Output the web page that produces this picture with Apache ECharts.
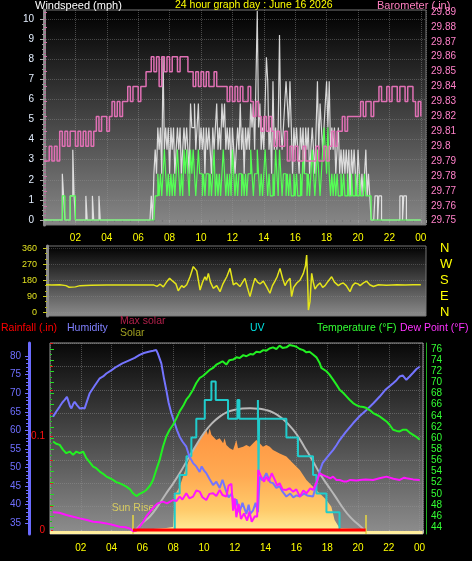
<!DOCTYPE html>
<html><head><meta charset="utf-8">
<script src="https://cdn.jsdelivr.net/npm/echarts@6/dist/echarts.min.js"></script>
<style>html,body{margin:0;padding:0;background:#000;}#c{width:472px;height:561px;}</style>
</head><body><div id="c"></div>
<script>
// ---- Wind (mph), 5-minute samples from 00:00 to 24:00 ----
const windGust = [
0,0,0,0,0,0,0,0,0,0,0,0,
0,0,2.3,1.2,0,0,0,0,1.2,1.2,3.5,1.2,
0,0,0,0,0,0,0,0,1.2,0,0,0,
0,1.2,0,0,0,0,1.2,0,0,0,0,0,
0,0,0,0,0,0,0,0,0,0,0,0,
0,0,0,0,0,0,0,0,0,0,0,0,
0,0,0,0,0,0,0,0,0,0,1.2,0,
2.3,3.5,2.3,4.6,3.5,4.6,2.3,8.1,3.5,4.6,3.5,4.6,
2.3,4.6,3.5,4.6,2.3,3.5,4.6,3.5,4.6,2.3,3.5,4.6,
3.5,4.6,3.5,2.3,5.8,4.6,4.6,5.8,3.5,4.6,5.8,3.5,
4.6,3.5,4.6,2.3,4.6,3.5,4.6,3.5,2.3,4.6,3.5,4.6,
5.8,3.5,4.6,3.5,5.8,4.6,5.8,3.5,4.6,3.5,4.6,2.3,
4.6,3.5,2.3,3.5,4.6,3.5,5.8,3.5,4.6,2.3,4.6,3.5,
4.6,3.5,5.8,4.6,5.8,3.5,6.9,10.4,4.6,5.8,3.5,4.6,
3.5,5.8,8.1,6.9,3.5,4.6,2.3,6.9,3.5,4.6,3.5,4.6,
9.2,4.6,3.5,4.6,5.8,6.9,5.8,4.6,6.9,4.6,2.3,4.6,
3.5,4.6,3.5,2.3,4.6,3.5,4.6,2.3,4.6,3.5,4.6,2.3,
3.5,4.6,3.5,2.3,4.6,6.9,3.5,5.8,4.6,3.5,4.6,5.8,
6.9,4.6,6.9,3.5,4.6,3.5,4.6,2.3,3.5,4.6,2.3,3.5,
2.3,3.5,2.3,3.5,2.3,3.5,1.2,3.5,2.3,3.5,2.3,1.2,
3.5,2.3,1.2,2.3,1.2,2.3,3.5,1.2,2.3,1.2,0,0,
0,1.2,1.2,0,1.2,1.2,0,0,0,0,0,0,
0,0,0,0,0,0,0,0,1.2,1.2,0,1.2,
1.2,0,0,0,0,0,0,0,0,0,0,0,
0];
const windSpeed = [
0,0,0,0,0,0,0,0,0,0,0,0,
0,0,1.2,1.2,0,0,0,0,1.2,1.2,1.2,1.2,
0,0,0,0,0,0,0,0,0,0,0,0,
0,0,0,0,0,0,0,0,0,0,0,0,
0,0,0,0,0,0,0,0,0,0,0,0,
0,0,0,0,0,0,0,0,0,0,0,0,
0,0,0,0,0,0,0,0,0,0,0,0,
0,1.2,1.2,2.3,1.2,2.3,1.2,2.3,3.5,2.3,1.2,2.3,
1.2,2.3,1.2,2.3,1.2,2.3,3.5,2.3,1.2,2.3,1.2,3.5,
2.3,3.5,2.3,1.2,3.5,2.3,3.5,2.3,1.2,2.3,3.5,2.3,
2.3,1.2,2.3,1.2,2.3,2.3,1.2,2.3,1.2,2.3,3.5,1.2,
2.3,1.2,2.3,1.2,2.3,3.5,2.3,1.2,2.3,1.2,2.3,1.2,
3.5,2.3,1.2,2.3,1.2,2.3,2.3,1.2,2.3,1.2,2.3,1.2,
2.3,2.3,3.5,2.3,1.2,2.3,2.3,3.5,2.3,1.2,2.3,1.2,
2.3,3.5,2.3,1.2,2.3,1.2,1.2,2.3,1.2,3.5,2.3,1.2,
3.5,2.3,1.2,2.3,2.3,1.2,2.3,1.2,2.3,1.2,1.2,2.3,
1.2,2.3,1.2,1.2,2.3,1.2,3.5,2.3,2.3,1.2,2.3,1.2,
2.3,3.5,2.3,1.2,2.3,3.5,2.3,1.2,2.3,3.5,4.6,3.5,
2.3,4.6,2.3,1.2,2.3,1.2,2.3,1.2,2.3,1.2,1.2,2.3,
1.2,2.3,1.2,1.2,2.3,1.2,1.2,2.3,1.2,1.2,2.3,1.2,
1.2,2.3,1.2,1.2,1.2,2.3,1.2,1.2,1.2,1.2,0,0,
0,0,0,0,0,0,0,0,0,0,0,0,
0,0,0,0,0,0,0,0,0,0,0,0,
0,0,0,0,0,0,0,0,0,0,0,0,
0];
// ---- Barometer (in), 10-minute samples ----
const barometer = [
29.79,29.79,29.80,29.79,29.80,29.79,
29.81,29.80,29.81,29.80,29.81,29.81,
29.80,29.81,29.80,29.81,29.80,29.81,
29.80,29.81,29.82,29.81,29.82,29.82,
29.81,29.82,29.83,29.82,29.83,29.82,
29.83,29.83,29.84,29.83,29.84,29.84,
29.83,29.84,29.84,29.85,29.85,29.86,
29.85,29.86,29.84,29.86,29.85,29.86,
29.85,29.86,29.86,29.85,29.86,29.86,
29.86,29.85,29.85,29.84,29.85,29.84,
29.85,29.84,29.85,29.84,29.84,29.85,
29.84,29.84,29.84,29.84,29.83,29.84,
29.83,29.84,29.83,29.84,29.83,29.83,
29.84,29.83,29.82,29.83,29.82,29.81,
29.82,29.81,29.82,29.81,29.80,29.81,
29.80,29.80,29.81,29.79,29.80,29.79,
29.80,29.79,29.79,29.80,29.79,29.79,
29.79,29.79,29.80,29.79,29.79,29.80,
29.79,29.80,29.81,29.80,29.81,29.81,
29.82,29.81,29.82,29.82,29.82,29.82,
29.82,29.83,29.82,29.83,29.83,29.82,
29.83,29.83,29.84,29.83,29.83,29.84,
29.83,29.84,29.84,29.83,29.84,29.84,
29.83,29.84,29.84,29.83,29.82,29.83,
29.82];
// ---- Wind direction (degrees) ----
const dirHours = [0,0.5,1.0,1.4,1.6,2.0,2.3,3.0,4.0,5.0,6.0,7.0,7.2,7.4,7.6,7.8,8.0,8.2,8.4,8.55,8.77,8.9,9.09,9.3,9.51,9.73,9.94,10.1,10.25,10.35,10.47,10.6,10.78,11.0,11.21,11.4,11.64,11.85,12.06,12.25,12.48,12.65,12.8,12.95,13.12,13.3,13.44,13.6,13.76,13.97,14.2,14.39,14.55,14.71,14.85,15.03,15.2,15.35,15.5,15.67,15.77,15.9,16.1,16.3,16.52,16.65,16.73,16.8,16.84,16.94,17.05,17.15,17.26,17.4,17.58,17.75,17.9,18.1,18.32,18.5,18.75,18.9,19.06,19.25,19.49,19.65,19.81,20.0,20.13,20.35,20.55,20.75,20.98,21.3,21.8,22.5,23.0,23.5,24.0];
const dirDegrees = [155,154,155,150,141,143,150,152,153,153,153,153,146,158,143,170,191,175,160,121,150,140,155,200,257,233,125,170,200,180,219,170,135,150,116,160,200,247,155,165,145,170,191,140,88,150,191,170,160,175,140,107,150,175,200,247,190,150,175,191,88,140,165,180,219,260,322,150,13,60,219,170,130,150,165,140,150,175,200,170,150,160,165,150,116,150,165,160,150,165,175,155,145,155,152,155,153,155,155];
// ---- Humidity (%) ----
const humHours = [0.2,0.4,0.63,0.8,0.95,1.1,1.17,1.3,1.39,1.5,1.6,1.75,1.93,2.1,2.25,2.4,2.58,2.9,3.23,3.45,3.66,4.0,4.31,4.7,5.18,5.5,5.82,6.1,6.47,6.7,6.9,7.0,7.23,7.4,7.55,7.7,7.88,8.1,8.25,8.42,8.6,8.85,9.05,9.29,9.5,9.72,9.85,10.0,10.15,10.35,10.59,10.8,11.02,11.2,11.45,11.6,11.8,12.0,12.1,12.3,12.5,12.75,12.9,13.0,13.19,13.35,13.5,13.62,13.8,14.05,14.3,14.48,14.7,14.9,15.1,15.35,15.6,15.8,16.0,16.22,16.5,16.7,17.08,17.3,17.51,17.7,17.95,18.2,18.38,18.6,18.81,19.2,19.68,20.1,20.55,21.0,21.41,21.8,22.28,22.5,22.71,22.9,23.14,23.35,23.58,23.8,24.01];
const humValues = [63.7,65.0,66.4,67.5,68.2,69.0,68.6,66.5,65.9,67.0,67.7,66.8,65.9,66.0,65.9,67.8,70.0,72.0,74.0,74.5,75.3,76.2,77.1,78.0,78.9,79.5,80.3,80.8,81.2,81.4,81.6,80.7,78.0,74.0,70.9,67.5,64.6,61.9,60.0,58.3,57.0,55.6,53.0,51.2,50.3,48.8,50.3,49.2,48.5,47.0,45.3,46.2,44.5,46.7,43.5,42.0,43.0,39.0,41.5,38.0,40.5,37.5,40.0,37.5,38.5,40.5,38.0,47.6,46.5,48.5,46.0,45.8,44.5,45.0,43.5,42.2,43.0,42.0,42.5,42.2,43.0,42.5,42.2,45.5,49.0,51.2,52.5,53.8,54.7,56.0,57.4,59.5,61.9,63.8,65.5,67.3,69.1,71.0,72.7,73.5,74.5,74.8,73.6,74.5,75.5,76.5,77.1];
// ---- Temperature (°F) ----
const tempHours = [0.2,0.4,0.63,0.85,1.06,1.28,1.5,1.71,1.93,2.15,2.36,2.6,2.8,3.0,3.23,3.45,3.66,3.9,4.09,4.3,4.53,4.75,4.96,5.2,5.39,5.61,5.82,6.05,6.26,6.5,6.69,6.9,7.12,7.34,7.55,7.77,7.99,8.2,8.42,8.65,8.85,9.05,9.29,9.5,9.72,9.95,10.15,10.4,10.59,10.8,11.02,11.2,11.45,11.65,11.89,12.1,12.32,12.55,12.75,13.0,13.19,13.4,13.62,13.85,14.05,14.25,14.48,14.7,14.91,15.1,15.35,15.55,15.78,16.0,16.22,16.45,16.65,16.85,17.08,17.3,17.51,17.62,17.73,17.95,18.15,18.38,18.6,18.81,19.05,19.25,19.45,19.68,19.9,20.11,20.35,20.55,20.78,20.98,21.2,21.41,21.6,21.85,22.05,22.28,22.5,22.71,22.9,23.14,23.35,23.58,23.8,24.01];
const tempValues = [59.4,59.0,58.8,57.9,57.3,57.6,57.0,57.6,57.3,57.6,56.4,55.6,54.9,54.6,54.0,53.6,53.1,52.8,52.5,52.1,51.9,51.6,51.3,50.8,50.1,49.6,50.0,50.3,50.7,51.5,52.5,54.3,56.1,58.5,60.3,61.5,62.4,63.5,64.8,65.8,66.9,67.6,68.7,69.9,70.8,71.2,71.7,72.3,72.6,73.2,73.5,73.8,73.2,74.0,74.1,74.5,74.4,74.9,74.7,75.1,75.0,75.5,75.4,75.8,75.7,76.1,76.3,76.0,76.6,76.2,76.3,76.7,76.6,76.4,76.0,75.8,75.4,75.5,75.0,74.5,73.5,72.6,72.3,72.0,71.4,70.5,69.6,68.7,68.1,67.5,66.9,66.3,65.9,65.7,65.6,65.4,65.0,64.5,64.2,63.9,63.5,63.0,62.4,61.5,61.3,61.2,61.5,61.5,61.0,60.6,60.2,59.7];
// ---- Dew point (°F) ----
const dewHours = [0.2,0.6,1.06,1.5,1.93,2.4,2.8,3.2,3.66,4.1,4.53,4.9,5.18,5.4,5.5,5.6,5.82,6.05,6.26,6.5,6.8,7.0,7.34,7.6,7.99,8.2,8.42,8.6,8.85,9.05,9.29,9.5,9.72,9.9,10.15,10.35,10.59,10.8,11.02,11.2,11.45,11.6,11.78,11.89,12.0,12.1,12.25,12.4,12.6,12.8,12.95,13.1,13.3,13.45,13.52,13.7,13.9,14.05,14.2,14.4,14.6,14.75,14.91,15.1,15.35,15.55,15.78,16.0,16.22,16.45,16.65,16.9,17.08,17.3,17.51,17.7,17.95,18.2,18.38,18.6,18.81,19.1,19.25,19.5,19.9,20.11,20.5,20.98,21.4,21.85,22.3,22.71,23.0,23.14,23.58,24.01];
const dewValues = [46.7,46.6,46.2,45.9,45.6,45.3,45.0,44.9,44.7,44.4,44.1,44.0,43.8,43.3,43.0,43.4,44.1,45.0,46.0,46.8,47.8,48.3,48.6,48.3,48.9,48.7,49.5,49.0,50.1,49.2,49.5,50.6,50.4,49.4,48.9,50.0,50.1,49.6,50.7,49.8,49.5,51.5,51.8,47.0,49.2,45.8,48.2,45.5,46.5,45.2,46.8,45.0,46.0,45.9,54.3,53.1,52.2,53.1,52.3,53.7,52.5,51.5,51.9,50.8,50.7,51.0,50.4,50.8,49.5,50.6,50.1,51.0,50.7,52.0,53.7,53.4,53.1,52.8,53.1,52.5,52.5,52.2,52.2,52.5,52.4,52.5,52.6,52.5,52.8,53.1,52.7,52.5,52.9,52.8,52.6,52.5];
// ---- Solar radiation (W/m²) ----
const solarHours = [0,5.5,5.82,6.69,7.55,7.99,8.1,8.42,8.85,9.29,9.72,10.15,10.26,10.37,10.48,10.59,10.8,11.02,11.24,11.34,11.45,11.67,11.89,12.1,12.21,12.32,12.54,12.75,12.97,13.19,13.4,13.62,13.83,14.05,14.27,14.48,14.7,14.91,15.35,15.78,16.22,16.65,17.08,17.51,17.95,18.27,18.48,18.81,20.11,20.43,24.2];
const solarValues = [0,0,8,15,22,30,268,330,479,603,678,752,715,765,717,715,678,690,653,690,640,616,603,678,616,603,628,640,628,653,678,653,628,640,628,603,591,578,554,504,454,380,330,281,231,181,82,20,15,0,0];
const maxSolarHours = [5.5,6,6.5,7,7.5,8,8.5,9,9.5,10,10.5,11,11.5,12,12.5,13,13.5,14,14.5,15,15.5,16,16.5,17,17.5,18,18.5,19,19.5,20,20.5];
const maxSolarValues = [0,60,110,185,272,355,445,545,640,730,800,850,885,903,912,914,911,902,882,845,792,722,630,535,432,345,262,175,103,50,0];
// ---- UV index ----
const uvHours = [8.1,8.1,8.42,8.86,9.18,9.5,10.05,10.48,10.76,11.56,12.17,12.3,13.5,13.54,13.58,15.35,16.1,17.08,17.3,17.95,18.8];
const uvValues = [0,2,3,4,5,6,7,8,7,6,7,6,7,3,6,5,4,3,2,1,0];
// ---- Rainfall (in) ----
const rainHours = [5.39,20.5];
const rainValues = [0,0];
const sunRise = 5.39, sunSet = 20.5;

const FONT = 'Liberation Sans';
const vgrad = (c0, c1) => new echarts.graphic.LinearGradient(0,0,0,1,[{offset:0,color:c0},{offset:1,color:c1}]);
const pairs = (xs, ys) => xs.map((x,i)=>[x, ys[i]]);
const byIndex = (arr, perHour) => arr.map((v,i)=>[i/perHour, v]);
const hourLabel = v => (v > 0 && Math.abs(v - Math.round(v)) < 1e-6 && Math.round(v) % 2 === 0) ? String(Math.round(v) % 24).padStart(2,'0') : '';
const hidX = (gi, min, max) => ({type:'value', gridIndex:gi, min, max, show:false, splitLine:{show:false}});
const off = {show:false};
const dotted = c => ({show:true, lineStyle:{color:c, type:'dotted', width:1}});

const option = {
  backgroundColor:'#000',
  animation:false,
  grid:[
    {left:44, top:10, width:382, height:215, show:true, backgroundColor:vgrad('#000000','#878787'), borderColor:'#777', borderWidth:1, outerBoundsMode:'none'},
    {left:44, top:19, width:382, height:201, outerBoundsMode:'none'},
    {left:44, top:12, width:382, height:208.7, outerBoundsMode:'none'},
    {left:47, top:246, width:379, height:70, show:true, backgroundColor:vgrad('#000000','#8c8c8c'), borderColor:'#777', borderWidth:1, outerBoundsMode:'none'},
    {left:47, top:248.3, width:379, height:64, outerBoundsMode:'none'},
    {left:50, top:343, width:373, height:191, show:true, backgroundColor:vgrad('#080808','#8e8e8e'), borderColor:'#999', borderWidth:1, outerBoundsMode:'none'},
    {left:29, top:356, width:394, height:167.3, outerBoundsMode:'none'},
    {left:50, top:349, width:376, height:178.3, outerBoundsMode:'none'},
    {left:50, top:343.33, width:373, height:186.67, outerBoundsMode:'none'}
  ],
  xAxis:[
    {type:'value', gridIndex:0, min:0, max:24.331, interval:2,
     axisLine:off, axisTick:{show:true, length:3, lineStyle:{color:'#999'}},
     minorTick:{show:true, splitNumber:4, length:2, lineStyle:{color:'#777'}},
     axisLabel:{color:'#ffff00', fontSize:10, fontFamily:FONT, margin:8, formatter:hourLabel},
     splitLine:dotted('rgba(150,150,150,0.45)')},
    hidX(1,0,24.331), hidX(2,0,24.331), hidX(3,0.1911,24.331), hidX(4,0.1911,24.331),
    {type:'value', gridIndex:5, min:0, max:24.221, interval:2,
     axisLine:off, axisTick:{show:true, length:3, lineStyle:{color:'#aaa'}},
     minorTick:{show:true, splitNumber:2, length:3, lineStyle:{color:'#888'}},
     axisLabel:{color:'#ffff00', fontSize:10, fontFamily:FONT, margin:9, formatter:hourLabel},
     splitLine:dotted('rgba(150,150,150,0.45)')},
    hidX(6,0,24), hidX(7,0,24), hidX(8,0,24)
  ],
  yAxis:[
    {type:'value', gridIndex:0, position:'left', min:-0.2488, max:10.4478, axisLabel:off, axisTick:off, splitLine:off,
     axisLine:{show:true, lineStyle:{color:'#8c8c8c', width:3}}},
    {type:'value', gridIndex:0, position:'right', min:29.74711, max:29.89141, axisLabel:off, axisTick:off, splitLine:off, axisLine:off},
    {type:'value', gridIndex:1, position:'left', min:0, max:10, interval:1, axisLine:off,
     axisTick:{show:true, length:4, lineStyle:{color:'#aaa'}},
     minorTick:{show:true, splitNumber:4, length:2, lineStyle:{color:'#999'}},
     axisLabel:{color:'#e4efff', fontSize:10, fontFamily:FONT, margin:10},
     splitLine:dotted('rgba(150,150,150,0.4)')},
    {type:'value', gridIndex:2, position:'right', min:29.75, max:29.89, interval:0.01, axisLine:off,
     axisTick:{show:true, length:3, lineStyle:{color:'#d070a8'}},
     minorTick:{show:true, splitNumber:4, length:2, lineStyle:{color:'#b06090'}},
     axisLabel:{color:'#ff80c8', fontSize:10, fontFamily:FONT, margin:5}, splitLine:off},
    {type:'value', gridIndex:3, position:'left', min:-20.81, max:372.9, axisLabel:off, axisTick:off, splitLine:off,
     axisLine:{show:true, lineStyle:{color:'#8c8c8c', width:3}}},
    {type:'value', gridIndex:4, position:'left', min:0, max:360, interval:90, axisLine:off,
     axisTick:{show:true, length:4, lineStyle:{color:'#c8c820'}},
     minorTick:{show:true, splitNumber:3, length:2, lineStyle:{color:'#b0b020'}},
     axisLabel:{color:'#e0e020', fontSize:9, fontFamily:FONT, margin:10},
     splitLine:dotted('rgba(150,150,150,0.35)')},
    {type:'value', gridIndex:4, position:'right', min:0, max:360, interval:90, axisLine:off, axisTick:off, splitLine:off,
     axisLabel:{color:'#ffff00', fontSize:13, fontFamily:FONT, margin:14,
       formatter:v => ({0:'N',90:'E',180:'S',270:'W',360:'N'})[v] || ''}},
    {type:'value', gridIndex:5, position:'left', min:-0.004286, max:0.20036, show:false, splitLine:off},
    {type:'value', gridIndex:5, position:'left', offset:21, min:32.122, max:83.497, axisLabel:off, axisTick:off, splitLine:off,
     axisLine:{show:true, lineStyle:{color:'#6b6bff', width:3}}},
    {type:'value', gridIndex:5, position:'right', offset:3, min:42.798, max:77.077, axisLabel:off, axisTick:off, splitLine:off,
     axisLine:{show:true, lineStyle:{color:'#20b020', width:1}}},
    {type:'value', gridIndex:5, position:'right', min:-22.34, max:1400, show:false, splitLine:off},
    {type:'value', gridIndex:5, position:'right', min:-0.1604, max:10.053, show:false, splitLine:off},
    {type:'value', gridIndex:6, position:'left', min:35, max:80, interval:5, axisLine:off,
     axisTick:{show:true, length:4, lineStyle:{color:'#6b6bff'}},
     minorTick:{show:true, splitNumber:5, length:3, lineStyle:{color:'#6b6bff'}},
     axisLabel:{color:'#6f6fff', fontSize:10, fontFamily:FONT, margin:8}, splitLine:off},
    {type:'value', gridIndex:7, position:'right', min:44, max:76, interval:2, axisLine:off,
     axisTick:{show:true, length:4, lineStyle:{color:'#22dd22'}},
     minorTick:{show:true, splitNumber:2, length:2, lineStyle:{color:'#22bb22'}},
     axisLabel:{color:'#33ff33', fontSize:10, fontFamily:FONT, margin:5}, splitLine:off},
    {type:'value', gridIndex:8, position:'left', min:0, max:0.2, interval:0.025, axisLine:off,
     axisTick:{show:true, inside:true, length:3, lineStyle:{color:'#e02020'}},
     axisLabel:{color:'#ff1010', fontSize:10, fontFamily:FONT, margin:5,
       formatter:v => (Math.abs(v) < 1e-9 ? '0' : (Math.abs(v-0.1) < 1e-9 ? '0.1' : ''))},
     splitLine:dotted('rgba(150,150,150,0.45)')}
  ],
  graphic:[
    {type:'text', left:35, top:0, style:{text:'Windspeed (mph)', fill:'#ffffff', font:'11px Liberation Sans'}},
    {type:'text', left:175, top:0, style:{text:'24 hour graph day : June 16 2026', fill:'#ffff00', font:'10.5px Liberation Sans'}},
    {type:'text', left:377, top:0, style:{text:'Barometer (.in)', fill:'#ff80c0', font:'11px Liberation Sans'}},
    {type:'text', left:1, top:323, style:{text:'Rainfall (.in)', fill:'#ff0000', font:'10.5px Liberation Sans'}},
    {type:'text', left:67, top:323, style:{text:'Humidity', fill:'#8080ff', font:'10.5px Liberation Sans'}},
    {type:'text', left:120, top:316, style:{text:'Max solar', fill:'#b0204a', font:'10.5px Liberation Sans'}},
    {type:'text', left:120, top:328, style:{text:'Solar', fill:'#a0a020', font:'10.5px Liberation Sans'}},
    {type:'text', left:250, top:323, style:{text:'UV', fill:'#00e0e0', font:'10.5px Liberation Sans'}},
    {type:'text', left:317, top:323, style:{text:'Temperature (°F)', fill:'#33ff33', font:'10.5px Liberation Sans'}},
    {type:'text', left:400, top:323, style:{text:'Dew Point (°F)', fill:'#ff33ff', font:'10.5px Liberation Sans'}}
  ],
  series:[
    {name:'Gust', type:'line', xAxisIndex:0, yAxisIndex:0, step:'end', symbol:'none', z:2,
     lineStyle:{color:'rgba(238,238,238,0.88)', width:1.2}, data:byIndex(windGust,12)},
    {name:'Wind speed', type:'line', xAxisIndex:0, yAxisIndex:0, step:'end', symbol:'none', z:3,
     lineStyle:{color:'#55ff55', width:1.2}, data:byIndex(windSpeed,12)},
    {name:'Barometer', type:'line', xAxisIndex:0, yAxisIndex:1, step:'end', symbol:'none', z:4,
     lineStyle:{color:'#e070b4', width:1.5}, data:byIndex(barometer,6)},
    {name:'Direction', type:'line', xAxisIndex:3, yAxisIndex:4, symbol:'none',
     lineStyle:{color:'#e4e41a', width:1.5}, data:pairs(dirHours, dirDegrees)},
    {name:'Solar', type:'line', xAxisIndex:5, yAxisIndex:10, symbol:'none', z:2,
     lineStyle:{width:0},
     areaStyle:{origin:'start', opacity:1, color:new echarts.graphic.LinearGradient(0,0,0,1,[
       {offset:0,color:'#ff9440'},{offset:0.45,color:'#ffaa52'},{offset:0.78,color:'#ffcc6c'},{offset:1,color:'#fff0a0'}])},
     data:pairs(solarHours, solarValues),
     markLine:{silent:true, symbol:['none','none'], lineStyle:{color:'#e8d840', width:1.5, type:'solid'},
       label:{show:true, position:'end', formatter:'Sun Rise', color:'#d8cc60', fontSize:10.5, fontFamily:FONT, distance:1},
       data:[
         [{coord:[sunRise,-22]},{coord:[sunRise,119]}],
         [{coord:[sunSet,-22], label:{show:false}},{coord:[sunSet,119]}]
       ]}},
    {name:'Max solar', type:'line', xAxisIndex:5, yAxisIndex:10, symbol:'none', smooth:true, z:3,
     lineStyle:{color:'#b8b8b8', width:2}, data:pairs(maxSolarHours, maxSolarValues)},
    {name:'UV', type:'line', xAxisIndex:5, yAxisIndex:11, step:'end', symbol:'none', z:4,
     lineStyle:{color:'#20cccc', width:2}, data:pairs(uvHours, uvValues)},
    {name:'Humidity', type:'line', xAxisIndex:5, yAxisIndex:8, symbol:'none', z:5,
     lineStyle:{color:'#7474ff', width:2}, data:pairs(humHours, humValues)},
    {name:'Dew Point', type:'line', xAxisIndex:5, yAxisIndex:9, symbol:'none', z:6,
     lineStyle:{color:'#ff14ff', width:2}, data:pairs(dewHours, dewValues)},
    {name:'Temperature', type:'line', xAxisIndex:5, yAxisIndex:9, symbol:'none', z:7,
     lineStyle:{color:'#22f022', width:2}, data:pairs(tempHours, tempValues)},
    {name:'Rainfall', type:'line', xAxisIndex:5, yAxisIndex:7, symbol:'none', z:8,
     lineStyle:{color:'#ff0000', width:3}, data:pairs(rainHours, rainValues)}
  ]
};
const chart = echarts.init(document.getElementById('c'));
chart.setOption(option);
</script>
</body></html>
